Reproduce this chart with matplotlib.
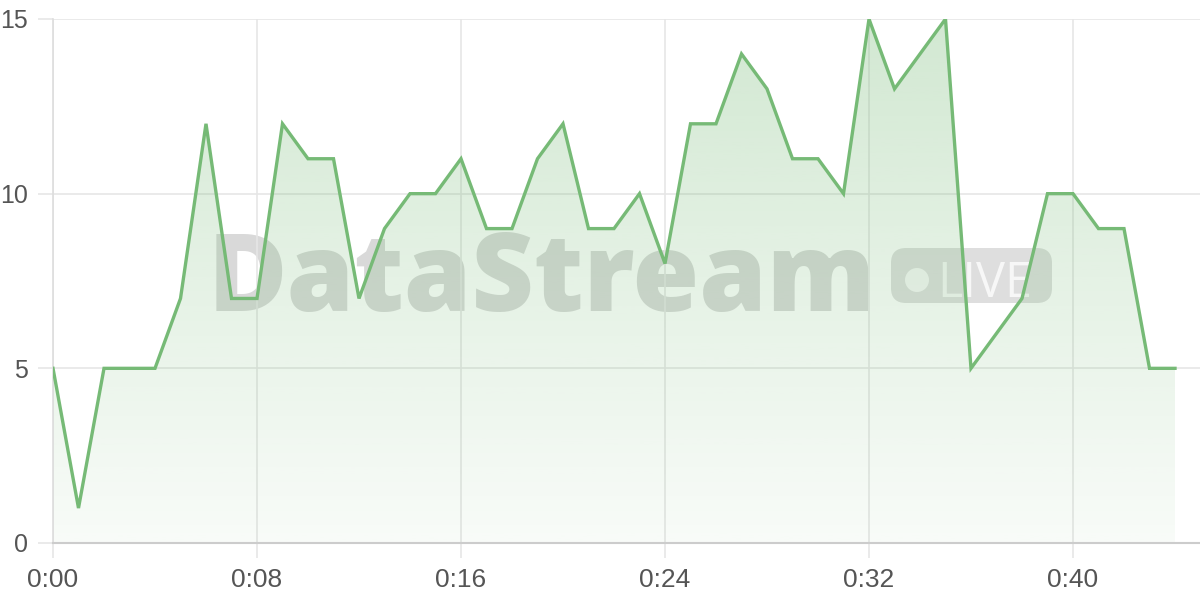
import numpy as np
import matplotlib.pyplot as plt
from matplotlib.patches import FancyBboxPatch, Ellipse

# minutes since start and values per minute
minutes = list(range(45))
values = [5, 1, 5, 5, 5, 7, 12, 7, 7, 12,
          11, 11, 7, 9, 10, 10, 11, 9, 9, 11,
          12, 9, 9, 10, 8, 12, 12, 14, 13, 11,
          11, 10, 15, 13, 14, 15, 5, 6, 7, 10,
          10, 9, 9, 5, 5]

x_ticks = [0, 8, 16, 24, 32, 40]
x_labels = ['0:00', '0:08', '0:16', '0:24', '0:32', '0:40']
y_ticks = [0, 5, 10, 15]

line_color = '#76ba76'
plt.rcParams['font.family'] = ['Liberation Sans', 'DejaVu Sans']

fig = plt.figure(figsize=(12, 6), dpi=100)
ax = fig.add_axes([53 / 1200, 1 - 543 / 600, 1 - 53 / 1200, (543 - 19) / 600])
ax.patch.set_alpha(0)
ft = fig.transFigure

# watermark, drawn inside the axes below the fill
ax.text(208 / 1200, 1 - 311 / 600, 'DataStream', fontsize=78, fontweight='heavy',
        color='#d9d9d9', family='Open Sans', ha='left', va='baseline',
        transform=ft, zorder=0.2, clip_on=False)
badge = FancyBboxPatch((891 / 1200, 1 - 303 / 600), 161 / 1200, 55 / 600,
                       boxstyle='round,pad=0,rounding_size=0.0125',
                       transform=ft, facecolor='#dedede', edgecolor='none',
                       zorder=0.2, mutation_aspect=2, clip_on=False)
ax.add_patch(badge)
ax.add_patch(Ellipse((917 / 1200, 1 - 280 / 600), 24 / 1200, 24 / 600, transform=ft,
                     facecolor='#f7f7f7', edgecolor='none', zorder=0.3, clip_on=False))
ax.text(937 / 1200, 1 - 297 / 600, 'LIVE', fontsize=35, color='#f7f7f7',
        family='Open Sans', ha='left', va='baseline', transform=ft,
        zorder=0.3, clip_on=False)

# gradient fill under the line
poly = ax.fill_between(minutes, values, 0, color='none', zorder=1)
grad = np.linspace(0.05, 0.33, 256)
rgba = np.zeros((256, 1, 4))
rgba[:, 0, 0] = 0x76 / 255
rgba[:, 0, 1] = 0xba / 255
rgba[:, 0, 2] = 0x76 / 255
rgba[:, 0, 3] = grad
img = ax.imshow(rgba, aspect='auto', origin='lower',
                extent=[0, minutes[-1], 0, 15], zorder=1)
img.set_clip_path(poly.get_paths()[0], transform=ax.transData)
ax.set_xlim(0, (1200 - 53) / 25.5)
ax.set_ylim(0, 15)

ax.plot(minutes, values, color=line_color, lw=2.4, zorder=3, solid_joinstyle='miter')

ax.set_xticks(x_ticks)
ax.set_xticklabels(x_labels)
ax.set_yticks(y_ticks)
ax.grid(True, color='#e6e6e6', lw=1.2, zorder=0)
ax.set_axisbelow(True)
ax.tick_params(length=11, width=1.2, color='#e6e6e6', labelsize=19,
               labelcolor='#555555')
ax.tick_params(axis='y', labelsize=18, pad=7)
ax.tick_params(axis='x', pad=7)
for s in ['top', 'right']:
    ax.spines[s].set_visible(False)
ax.spines['left'].set_color('#dddddd')
ax.spines['bottom'].set_color('#cccccc')
ax.spines['left'].set_linewidth(1.2)
ax.spines['bottom'].set_linewidth(1.5)

plt.savefig('out.png', dpi=100)
